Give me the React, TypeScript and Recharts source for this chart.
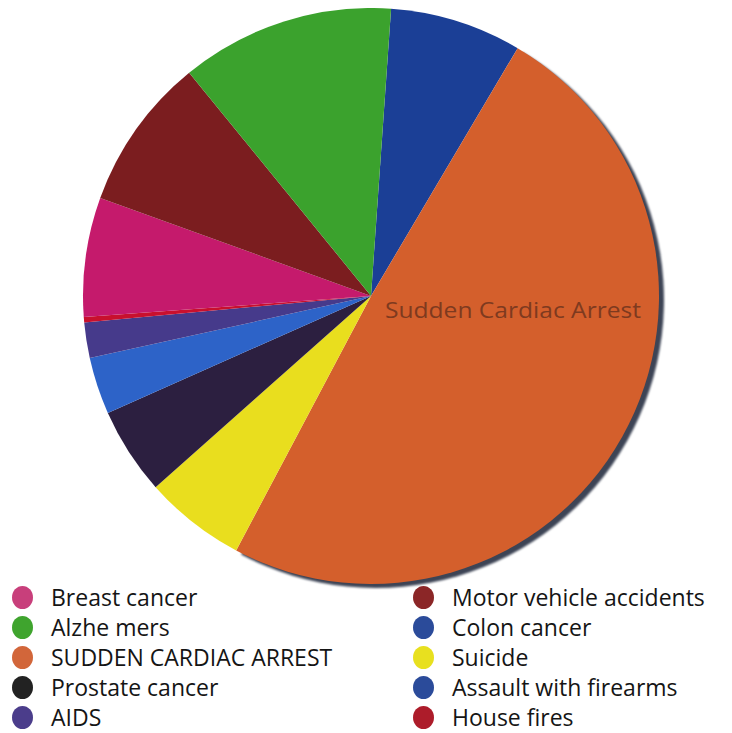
import React from 'react';
import { PieChart, Pie, Cell } from 'recharts';

// slices in clockwise order starting at the top
const causes = [
  'Colon cancer',
  'Sudden Cardiac Arrest',
  'Suicide',
  'Prostate cancer',
  'Assault with firearms',
  'AIDS',
  'House fires',
  'Breast cancer',
  'Motor vehicle accidents',
  'Alzheimers',
];
const shares = [7.4, 49.3, 5.7, 4.9, 3.2, 2.0, 0.3, 6.7, 8.6, 12.0];
const sliceColors = [
  '#1b3f96', '#d45f2c', '#e9de1e', '#2c1f40', '#2d63c8',
  '#463a8b', '#c8102e', '#c51a6c', '#7b1d1f', '#3ba22d',
];

const legendLeft = ['Breast cancer', 'Alzhe mers', 'SUDDEN CARDIAC ARREST', 'Prostate cancer', 'AIDS'];
const legendLeftColors = ['#c83f7b', '#3fa42e', '#d2663a', '#222222', '#4b3d8b'];
const legendRight = ['Motor vehicle accidents', 'Colon cancer', 'Suicide', 'Assault with firearms', 'House fires'];
const legendRightColors = ['#8b2627', '#2b4b9a', '#e8e01f', '#2b4b9a', '#ad1c2a'];

const data = causes.map((name, i) => ({ name, value: shares[i] }));

const font = '"Open Sans", "Liberation Sans", Arial, sans-serif';

function renderLabel(props: any) {
  if (props.index !== 1) return null;
  return (
    <text
      x={props.cx + 14}
      y={props.cy + 22}
      fill="#7e3a1f"
      fontSize={21}
      fontFamily={font}
      textLength={256}
      lengthAdjust="spacingAndGlyphs"
    >
      {props.name}
    </text>
  );
}

function LegendColumn({ labels, colors, left }: { labels: string[]; colors: string[]; left: number }) {
  return (
    <div style={{ position: 'absolute', left, top: 582 }}>
      {labels.map((label, i) => (
        <div key={label} style={{ display: 'flex', alignItems: 'center', height: 30 }}>
          <span
            style={{
              display: 'inline-block',
              width: 21,
              height: 23,
              borderRadius: '50%',
              background: colors[i],
              marginRight: 18,
              flexShrink: 0,
            }}
          />
          <span style={{ fontSize: 23, lineHeight: '30px', color: '#151515', fontFamily: font, whiteSpace: 'nowrap' }}>
            {label}
          </span>
        </div>
      ))}
    </div>
  );
}

export default function App() {
  return (
    <div
      style={{
        position: 'relative',
        width: 732,
        height: 733,
        margin: '-8px 0 0 -8px',
        background: '#fff',
      }}
    >
      <PieChart width={732} height={590}>
        <Pie
          data={data}
          dataKey="value"
          nameKey="name"
          cx={366}
          cy={291}
          outerRadius={288}
          startAngle={86}
          endAngle={-274}
          stroke="none"
          label={renderLabel}
          labelLine={false}
          isAnimationActive={false}
        >
          {data.map((d, i) => (
            <Cell
              key={d.name}
              fill={sliceColors[i]}
              style={i === 1 ? { filter: 'drop-shadow(5px 4px 1px #3d4455)' } : undefined}
            />
          ))}
        </Pie>
      </PieChart>
      <LegendColumn labels={legendLeft} colors={legendLeftColors} left={12} />
      <LegendColumn labels={legendRight} colors={legendRightColors} left={413} />
    </div>
  );
}
